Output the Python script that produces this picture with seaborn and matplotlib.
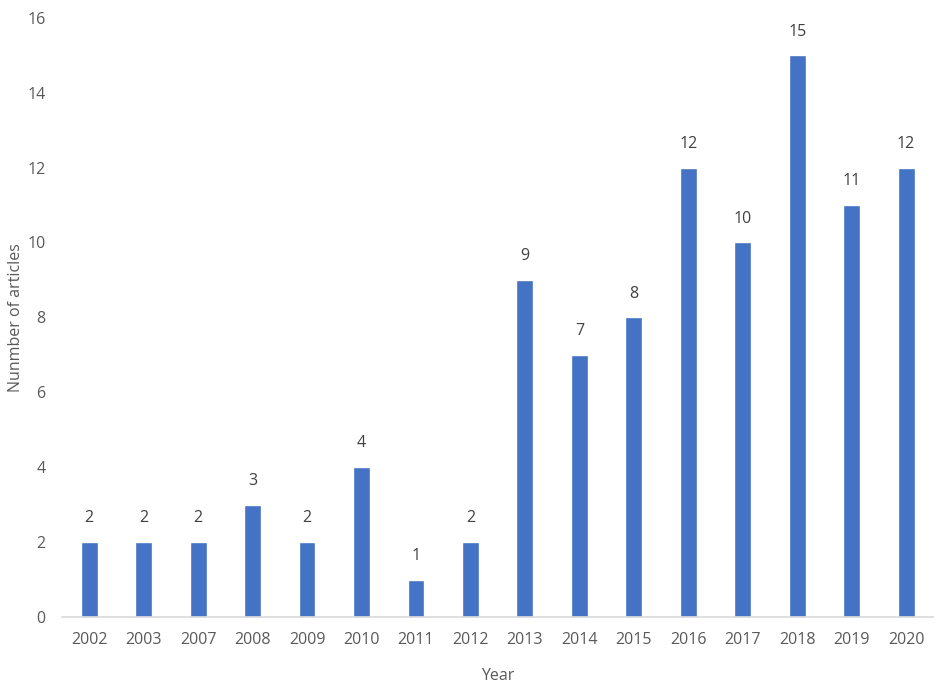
import matplotlib
matplotlib.use("Agg")
import matplotlib.pyplot as plt
import seaborn as sns
import pandas as pd

years = ["2002", "2003", "2007", "2008", "2009", "2010", "2011", "2012",
         "2013", "2014", "2015", "2016", "2017", "2018", "2019", "2020"]
articles = [2, 2, 2, 3, 2, 4, 1, 2, 9, 7, 8, 12, 10, 15, 11, 12]

sns.set_style("white")
plt.rcParams['font.family'] = ['Open Sans', 'DejaVu Sans']

grey = "#595959"
df = pd.DataFrame({"Year": years, "Articles": articles})

fig = plt.figure(figsize=(9.39, 6.84), dpi=100)
ax = fig.add_axes([0.066, 0.098, 0.928, 0.876])
sns.barplot(data=df, x="Year", y="Articles", color="#4472C4", width=0.31,
            saturation=1, ax=ax)

# value labels above each bar
for i, v in enumerate(articles):
    ax.text(i, v + 0.42, str(v), ha="center", va="bottom", fontsize=11.5, color="#404040")

ax.set_xlim(-0.5, 15.5)
ax.set_ylim(0, 16)
ax.set_yticks(range(0, 17, 2))
ax.tick_params(axis="x", labelsize=11.5, colors=grey, length=0, pad=11)
ax.tick_params(axis="y", labelsize=11.5, colors=grey, length=0, pad=12)
ax.set_xlabel("Year", fontsize=11.5, color=grey, labelpad=14)
ax.set_ylabel("Nunmber of articles", fontsize=11.5, color=grey, labelpad=2)

for s in ["top", "right", "left"]:
    ax.spines[s].set_visible(False)
ax.spines["bottom"].set_color("#D9D9D9")
ax.spines["bottom"].set_linewidth(1.2)

fig.savefig("out.png", dpi=100)
